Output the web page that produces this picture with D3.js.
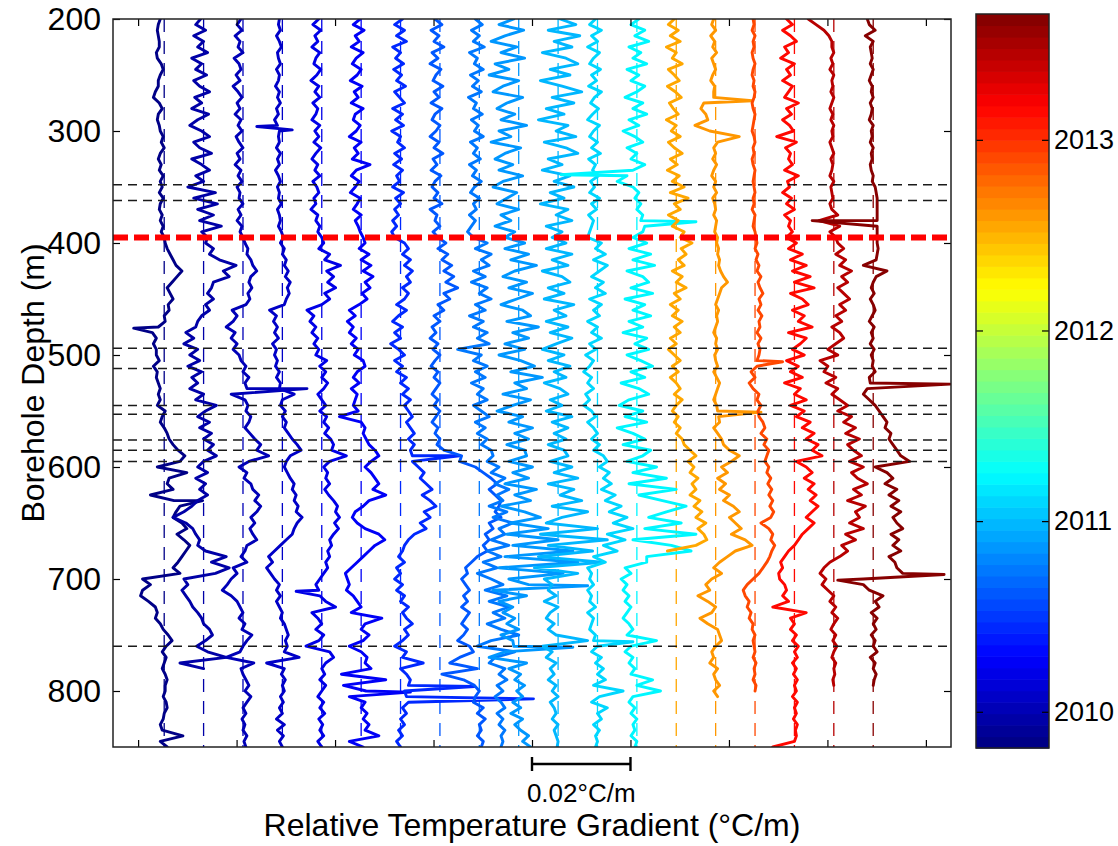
<!DOCTYPE html>
<html>
<head>
<meta charset="utf-8">
<script src="https://cdn.jsdelivr.net/npm/d3@7/dist/d3.min.js"></script>
<style>
  body { margin: 0; background: #fff; }
  svg { display: block; }
  text { font-family: "Liberation Sans", Arial, Helvetica, sans-serif; fill: #000; }
</style>
</head>
<body>
<svg id="chart" width="1118" height="846"></svg>
<script>
// ---- data -------------------------------------------------------------
// Relative temperature-gradient logs, one per survey, in mK/m relative to
// each log's own baseline, sampled every 5 m from 200 m downwards.
const depthStart = 200;
const depthStep = 5;

// survey dates (decimal years) -> colour on the jet scale
const surveyYears = [2009.86, 2009.94, 2010.02, 2010.10, 2010.18, 2010.28, 2010.46,
  2010.60, 2010.72, 2010.84, 2010.96, 2011.08, 2011.22, 2012.52, 2012.58,
  2012.92, 2013.14, 2013.42, 2013.63];

// horizontal offset of each log (°C/m)
const baselineOffsets = [0.0053, 0.0133, 0.0213, 0.0293, 0.0373, 0.0453, 0.0533,
  0.0613, 0.0693, 0.0773, 0.0853, 0.0933, 0.1013, 0.1093, 0.1173, 0.1253,
  0.1333, 0.1413, 0.1493];

const survey01 = [
  -0.8,-1.2,-1.4,-1.2,-1,-1,-1.6,-1.4,-0.6,-0.2,-0.8,-1.2,-1.2,-1.8,-2.2,-1,-0.4,-1.2,-1.4,-1,
  -0.8,-0.2,-0.6,0,-0.8,-1.2,-0.6,-1,-0.2,-0.8,-0.4,-1,-0.2,-0.8,-1,-0.4,-0.8,-0.2,-0.6,0,
  0.2,0.6,1.2,1.8,2.4,3.6,2.6,1.6,0.6,1.2,1.8,0.8,1,0,0.2,-1.2,-2.4,-1.6,-2.2,-1.6,
  -1.6,-1,-2.2,-1.4,-1.6,-1.2,-0.8,-1.2,-0.8,-1.4,0.2,-0.4,-0.8,0,0.6,1,1.8,2.8,4.2,3.2,
  -1.4,4.6,1,0.6,1.8,-2.8,2,3.2,2.4,1.8,3.6,4.6,2.6,4,5.2,4.4,3.6,2.8,1.8,3.2,
  -4.4,-2.8,-4.4,-4.8,-3.2,-1.8,-1.4,-1.8,-0.8,-0.2,0.8,1.6,0.4,-0.4,0.4,0,-0.4,0.2,0.6,0.2,
  0.2,-0.2,0.4,0.6,0,-0.2,-0.8,-0.4,3.8,-0.8,0.6];
const survey02 = [
  -0.6,-1.6,0.4,-2,0,-1.2,0.8,-2.4,-0.4,-1.6,0.6,-2,-0.8,1.2,-1.8,-0.4,-2.4,1,-1.2,-2.8,
  -0.4,1.2,-2,-0.8,1.6,-2.4,-0.4,1.2,-1.6,0,-3.2,2.4,-2,2.8,-1.2,2,-0.8,3.6,-0.4,0.8,
  0.4,2,1.2,3.2,6.6,4,5.2,2,1.6,0.8,2,0.4,1.2,-0.4,-1.2,-1.6,-3.6,-2,-4,-1.2,
  -2.8,-0.8,-3.2,-0.4,-2.4,-1.2,-2.8,0,-1.6,2.6,0.4,-1.2,1.2,-0.8,1.6,0,2,0.8,2.6,0,
  -1.2,0.8,-1.6,0.4,-0.8,0.8,-1.2,-2.4,-4,-6.2,-3.6,-2.2,-1.6,-0.8,-1.2,0.4,4.6,1.6,5.2,2.4,
  -4,-3.2,-4.4,-3.6,-2.8,-2.2,-1.2,-0.4,0,1.2,1.8,0.4,-1.4,0.8,4.6,-4.8,0];
const survey03 = [
  -0.4,-1.2,-0.2,-1.6,-0.6,-1,0,-1.8,-0.8,-0.4,-1.4,-0.6,-2,-1,-0.2,-1.2,-0.6,-1.6,-0.4,-1,
  -0.2,-1.4,-0.8,0,-1.2,-0.6,-1.6,-0.4,-1,-0.2,-1.2,-0.6,-0.8,0,-1,-0.4,-1.2,-0.2,-0.6,0,
  0.4,1,0.8,1.6,2,2.8,1.6,1.2,1.8,1,1.4,0.6,-2.2,-1.2,-2,-3.4,-1.6,-2.4,-1.2,-2,
  -0.8,-0.4,0.6,0,1.2,0.4,0.8,-2.4,0.4,1,0.6,1.6,1.2,0.4,1.4,2.4,3.6,2.8,5.2,1.2,
  -0.8,0.8,0.2,1.6,2,3.2,2.4,3.6,2.8,1.6,2.4,1.4,2,2.8,0.8,0.4,-0.4,0.8,-2,-1.2,
  -2.4,-3.2,-4.2,-2.4,-1.2,-0.6,0,-0.8,0.4,-0.2,1.8,0.8,0,-0.6,-3.4,2.2,-0.4,0,0.6,1.2,
  0.4,1.6,0.8,0,0.6,-0.2,0.4,0,0.8,0.2,0.6];
const survey04 = [
  -0.6,-0.8,-0.4,-1.2,-0.6,-0.2,-1,-0.8,-0.4,-1.2,-0.6,-0.8,-1.4,-0.6,-1,-0.4,-1.2,-0.8,-1.6,-1,
  -0.6,-0.8,-0.6,-1.2,-0.4,-1,-0.6,-1.4,-0.8,-0.4,-1,-0.6,-0.8,-0.2,-1,-0.6,-0.4,-0.8,-0.2,0.2,
  -0.4,0.4,0,0.8,0.4,1.2,0.6,1.6,1,1.4,0.8,0.4,-2.6,-1.2,-1.8,-1,-1.6,-0.8,-2,-1.2,
  -1.6,-1,-1.4,-0.6,-1.2,-0.4,-0.6,2.4,0,-0.4,0.6,0,0.8,0.4,1.2,2,3,3.8,1.6,0.8,
  0.4,1,1.6,2.4,2,2.8,2.4,3.2,2.8,4,3,2.4,2,0.8,-0.4,-1.6,-2.8,-2,-3.2,-2.4,
  -1.6,-0.6,-1.2,-0.4,-1.2,-0.6,0,-0.4,0.4,0.8,1.2,0.6,1,0.4,3.4,-3.2,0.4,-0.2,0.6,0,
  0.4,-0.4,0.2,-0.6,0,-1.2,0.4,-1,0.2,-0.6,0];
const survey05 = [
  -0.6,-1.8,-0.2,-1.4,-0.8,-2,-0.4,-1.2,-1.6,-0.2,-1,-2.2,-0.6,-1.4,-0.4,-1.8,-0.8,-1.2,-2,-0.4,
  -1.4,-0.6,-1.6,-0.2,-1.2,-2,-0.8,-1.4,-0.4,-1.8,-1,-0.6,-1.6,-1.2,-2.2,-0.8,-1.2,-0.4,-0.8,0,
  0.4,-0.6,1.6,0.6,3.8,1,2.4,1.2,2.8,0.6,1.6,0,-3,-1.6,-2.4,-1.2,-2,-0.8,-1.6,-0.6,
  -1.2,1,-0.4,0.8,0,1.2,0.4,-0.8,0,0.8,-0.4,1,0.4,1.4,0.6,1.8,2.4,2,5,1.6,
  0.4,1.2,0.8,1.6,0.6,1.4,2.4,3.2,2.8,3.6,2.6,3.4,2.4,1.6,2,1.2,1.6,0.8,1.2,0.4,
  -0.4,-1.2,-0.6,-0.4,0.8,2.8,-2,-0.8,0,-1.2,0.4,-0.6,-3.2,1.6,2.4,0.8,0,0.6,-0.4,0.8,
  0,-0.8,0.4,-0.4,0.6,-0.6,0.2,-0.4,0.4,-0.8,0];
const survey06 = [
  -0.2,-1.6,0.6,-1.2,-0.4,-2,0.4,-1,-1.8,0,-0.8,-2.2,0.2,-1.4,-0.6,-2,0.4,-1.2,-1.6,-0.2,
  -1,-2.4,0,-1.4,-0.6,-1.8,1.8,-1,-2,-0.4,-1.2,-2.2,-0.2,-0.8,-1.6,0,-1.2,-0.6,-0.2,0.4,
  0.8,-0.4,1.6,0,2,0.4,2.4,0.8,1.8,0.2,1.2,-0.4,-2.4,-1.2,-2.8,-1.6,-2.4,-1,-2,-0.6,
  -1.4,0.4,0.8,-0.8,-1.6,-0.4,-2,-0.8,-1.2,-1.6,-0.6,-4.4,0,0.8,0.4,1,1.6,2.8,3.6,2,
  0.8,2,2.8,3.6,2.4,5,1.6,0.4,-1.2,-1.8,-0.8,0.8,3.6,4.8,2.8,1.6,0.4,-0.8,-2,-3.2,
  -2.8,-2.4,-3,-1.6,-0.8,0,-2,4.2,0.8,0,1.6,0.4,-2.4,0,1.2,0.8,2,-4,5,-3.6,
  1,-2.4,0.8,0,1.2,0.4,1.6,0.8,3.6,-2.4,0.4];
const survey07 = [
  0.4,-1.2,0.8,-0.8,1.2,-1.6,0,-1,0.6,-1.4,0.2,-0.8,1,-1.2,-0.2,0.8,-1.6,0.4,-1,0.6,
  -1.8,0,-0.6,0.8,-1.2,0.2,-1.4,0.4,-0.8,-0.2,-1.6,0.6,-1,0,-1.2,-0.4,-1.6,-0.8,-1.8,-1.2,
  0.8,1.6,0.4,2,0.8,2.4,1.2,2,0.4,1.6,0.8,-0.8,1.2,-0.4,-1.6,0.4,-1.2,0,-2,-0.4,
  0.8,-1.2,0.4,-0.8,1.2,0,1.6,0.4,2,0.8,1.6,2.4,1.2,2,2.8,1.6,2.8,2,2.4,2.4,
  3.6,4.8,4,5.2,6.4,4.4,6,7.2,4.8,6,4,5.2,2.8,1.6,0.8,0.4,-0.4,0.8,-0.8,0,
  -1.2,0.4,-0.8,0.8,0,1.6,0.4,1.2,2.4,0.8,1.6,0.4,-1.2,1.2,0.4,4.6,0,1.2,2,1.6,
  0.8,1.2,1.6,0.4,1.2,0,0.8,-0.4,0.4,-0.8,0];
const survey08 = [
  -1,0.4,-1.8,-0.2,-1.2,0.8,-1.6,-0.4,-2,0.2,-0.8,-1.4,0.6,-1.2,-0.2,-1.8,0.4,-1,-1.6,0,
  -0.8,-2,-0.2,-1.2,0.6,-1.4,-0.6,-1.8,0.2,-1,-1.6,-0.4,-1.2,0.4,-2,-0.6,-1,0,-1.4,-0.4,
  1.2,-0.4,1.6,0.4,2.4,0.8,2.8,1.2,3.6,0.8,2,-0.4,0.8,-1.2,0,-1.6,-0.8,-2,-0.4,-1.4,
  0,-1,-1.8,-0.4,-1.2,0,-0.8,-1.6,-0.4,-1.2,0,-0.8,-1.6,-0.4,-1,0,-0.6,0.8,4.4,4,
  7.2,8.8,10.4,11.6,10,11.2,12.4,12,11.2,12.4,10,10.8,9.2,10,8.8,9.6,7.6,6.4,5.2,5.6,
  4.4,5.2,6,4.8,5.6,4.4,6,5.2,4.4,5.6,4.8,3.6,6,6.8,4,2,7.6,0.4,4.8,7,
  8,7.2,6.8,8.8,7.6,9.2,8,8.4,7.6,8.8,8.4];
const survey09 = [
  -0.8,0.6,-1.6,0,-1.2,1,-2,-0.4,-1,0.8,-1.8,-0.2,-1.4,0.4,-2.2,-0.6,-1.2,0.6,-1.6,-0.2,
  -1,0.8,-1.8,-0.4,-1.2,0.2,-2,-0.6,-1.4,0.4,-1,-1.8,0,-1.2,-0.6,-2,-0.8,-1.6,-2.4,-1.2,
  1.6,-0.8,2.4,0.4,2,-1.2,1.2,-1.6,1.6,0,2.4,-0.8,1.2,-2,0.8,-1.2,1.6,-0.4,2,-4.4,
  0.4,-1.2,1.6,-0.8,1.2,-1.6,0.8,-0.4,1.6,-1.2,0.4,2,-0.8,1.2,-0.4,1.6,0.4,2.4,2.8,1.6,
  4,2.4,5.2,3.2,6,3.6,4.8,2,5.6,2.8,6.8,4,5.2,2.4,6,1.6,4.4,0.8,3.6,-0.4,
  2.4,4.8,1.2,5.6,2,6,2.8,5.2,1.6,4.4,8,2.4,-0.4,7.2,3.2,2,5.2,4,5.6,3.6,
  4.8,3.2,4.4,5.2,3.6,4.8,4,5.2,4.4,4.8,4.4];
const survey10 = [
  -1,-4,1,-2.8,-5.6,-0.4,-3.6,1.2,-4.8,-2,-6,0,-3.2,-5.2,0.8,-2.4,-4.4,-0.8,-3.6,1.6,
  -4,-1.6,-5.6,0.4,-2.8,-4.8,-1.2,-4,0.8,-3.2,-5.2,-0.4,-2.4,-4.4,0,-3.6,-1.6,-4.8,-0.8,-2.8,
  1.2,-2.8,2,-1.6,3.6,-0.8,-3.2,1.6,-2,2.8,-0.4,-3.6,0.8,2.4,-2.4,4,-1.2,2,-2.8,1.2,
  -4,0.4,3.2,-1.6,4.8,-0.8,1.6,-3.2,2.4,-1.2,-4.4,0.8,-2,2.8,-0.8,2,-2.4,1.2,1.6,-2,
  2.8,-1.2,2,-2.8,3.6,-0.8,2.4,-3.6,1.2,4.4,-1.6,6,-2.4,8,-1.2,11,-2.8,12,-4,9,
  -2,2,-5.2,1.6,-4,-1.2,-3.2,-0.8,-2.4,0,-3.6,-1.2,-1,-2.8,-6,1.6,-2,0.4,-0.8,1.2,
  -0.4,0.8,-1.2,0.4,-1.6,0.8,-0.8,0.4,2,0.8,2.4];
const survey11 = [
  0.4,3.6,-2,4.4,-0.8,2.8,-3.2,1.6,4,-1.6,2.4,-3.6,0.8,4.8,-1.2,3.2,-2.4,1.2,-4,2,
  -0.4,3.6,-2.8,1.6,4,-2,0.8,-3.2,2.4,-0.8,3.2,-1.6,1.2,-3.6,2,-0.4,2.8,-2.4,0.8,-1.2,
  1.6,-2.4,2.8,-1.2,2,-3.2,0.8,2.4,-2,1.2,-2.8,3.2,-0.8,1.6,-2.4,2,-1.6,2.8,-0.4,-3.2,
  1.2,-2,2.4,-0.8,1.6,-2.8,0.4,2,-1.6,0.8,-2.4,2.8,-1.2,2,-0.8,1.6,-2,1.2,2,-1.6,
  2.8,-0.8,4,-2,3.2,0.4,4.8,-1.2,6,0.8,-2.4,8,-3.6,10,-2,7,-4,9,-4.8,4,
  -2.8,-1.2,-2,-0.4,-2.8,0,-1.6,-2.4,-0.8,-2,-0.4,6,-3.2,-1.2,-2.4,-0.4,-1.6,-0.8,-2,-0.4,
  -1.2,0,-1.6,-0.8,-0.4,-1.2,0,-0.8,-0.4,0,-0.2];
const survey12 = [
  -0.4,-1.6,0.8,-1.2,0,-2,0.4,-0.8,-1.6,0.6,-1.2,-0.2,-1.8,0.8,-0.6,-1.4,0.2,-1,-2,0.4,
  -0.8,-1.6,0,-1.2,0.6,-1.8,-0.4,-1,0.2,-1.4,-0.6,-1.6,0.4,-1.2,-0.2,-1.8,-0.8,-1.2,-1.6,-2,
  0.8,-0.4,1.6,-0.8,2,0.4,-1.2,1.2,-0.4,1.6,-1.6,0.8,-0.8,0.4,-2,0,-1.2,0.8,-1.6,-0.4,
  -2.4,-0.8,-1.6,-2.8,-1.2,-2,-0.8,-2.4,-1.6,-2.8,-1.2,-0.4,-2,-0.8,0,-1.2,0.4,-0.8,1.2,2,
  0.4,2.4,1.2,2.8,0.8,3.6,1.6,4.8,2.4,6,3.2,7.2,2,5.6,1.2,4,-0.8,1.6,-2,-1.2,
  -1.6,-0.8,-2,-1.2,-1.6,-0.4,-2,-0.8,-1.2,-1.6,-0.4,-0.8,0,-1.2,0.8,-0.4,1.2,0,1.6,-0.8,
  5.2,0.4,-1.2,2,0,0.8,-0.8,0.4,-0.4,0,-0.4];
const survey13 = [
  0.4,-1.2,1.6,-0.4,2.4,-1.6,0.8,-0.8,2,-2,0.4,-1.2,1.6,0,-2.4,1.2,-0.8,2,-1.6,0.4,
  -2.8,-0.4,1.2,-2,0,-1.2,1.6,-0.8,-2,-4,-0.8,0.4,-0.4,0.8,0,1.2,0.8,1.6,1.2,-0.8,
  2,-1.6,2.8,-0.8,3.6,-2,1.2,2.4,-1.2,3.2,-2.4,1.6,-0.8,2.8,-1.6,1.2,-2.8,2,-0.4,2.4,
  -2,0.8,3.2,-1.2,1.6,-3.2,0.4,2.4,-1.6,-3.6,1.2,-2.4,2,-4,-0.8,1.6,-2.8,2.8,1.2,-2,
  4,-0.8,6,-1.6,8,0.4,5.2,10,6,2.4,9,1.6,12,-0.8,7,11,2,2,-2.4,-1.2,
  -3.2,-2,-2.8,-1.6,-2.4,-1.2,-2,-2.8,-1.6,-0.8,-2,4,-1.2,-2.4,-0.8,-1.6,-0.4,-1.2,3.2,0,
  4.8,-0.8,-1.6,-0.4,-1.2,0,-0.8,-0.4,-1.2,0,-0.4];
const survey14 = [
  -0.4,-1.6,0.4,-1.2,0.8,-2,0,-0.8,1.2,-1.6,-0.4,0.6,-1.8,-0.2,1,-1.4,-0.6,0.4,-2,0,
  -1,0.8,-1.6,-0.4,1.2,-1.2,0.2,-1.8,0.6,-0.8,1.6,-1.2,2.4,-0.4,0.8,-1.6,0.4,-0.8,1.6,0.8,
  3.2,1,2,0.4,1.6,-0.8,1.2,0,2,-0.4,0.8,-1.2,0.4,-0.8,1.2,-0.4,0.8,-1.2,0,-1.6,
  -0.4,0.8,-0.8,0.4,-1.2,0,0.8,-0.4,1.2,0,-0.8,0.4,-0.4,0.8,0,1.2,1.6,2.8,4,2.4,
  3.6,2.8,4.4,3.2,4,2.8,4.8,3.6,5.2,4,6,4.4,5.6,6.2,4,-1.8];
const survey15 = [
  -0.4,-0.8,0,-1,-0.2,-0.6,0.2,-0.8,-0.4,0,-0.6,-1,-0.2,-0.4,-0.4,-2.4,-3,-2,-1.6,-4.2,
  -1.2,4.8,0.4,-0.4,0,-0.6,0.2,-0.4,-0.8,0,-0.4,0.2,-0.6,-0.2,0,-0.4,0.2,0,-0.2,0.4,
  0.2,0.6,0.4,0.8,0.6,1,1.6,2.4,1.2,0.8,0.4,0,0.6,0.2,0.4,0,-0.4,0.2,0,0.4,
  -0.2,0,0.4,-0.4,0.2,0.8,0.4,0,-0.4,0.2,0.4,0.6,0.8,-0.4,0.4,1.2,1.6,2.8,4.8,3.2,
  1.2,2.4,0.4,2,0.8,2.8,1.6,3.6,4.8,2.8,4,5.2,3.2,6,7.4,4,2.4,0.8,-0.4,1.2,
  -0.8,-2,-1.2,-3.6,-1.6,0,-0.8,-3.2,-1.6,0.4,0.8,1.2,0,-0.8,-0.4,-1.2,0.4,-0.4,0,0.8,
  -0.4,0.4];
const survey16 = [
  -0.4,-0.2,-0.6,0,-0.4,-0.2,-0.6,-0.4,0,-0.4,-0.6,-0.2,-0.4,0,-0.2,-0.6,-0.4,0,-0.2,-0.4,
  -0.6,-0.2,0,-0.4,-0.2,-0.6,-0.4,0,-0.2,-0.4,-0.2,0,-0.4,-0.2,-0.6,0,-0.2,-0.4,0,0.2,
  0.4,0,0.6,0.2,0.8,0.4,1.2,0.6,1,1.6,0.8,1.2,0.6,1.4,0.8,1,0.4,1.2,0.6,1,
  0.8,0.4,0.4,-0.8,0,-1.2,-0.4,0.8,0.4,1.2,0.6,0.8,1.6,2,1.2,2.4,1.8,2.8,2.4,2,
  2.8,2.4,3.2,2.6,3.4,2.8,3.6,3,3.8,3.2,1.2,2.8,3.6,3.2,4,3.4,3,2.4,1.6,0.8,
  -0.4,-1.6,-2.4,-2,-1.2,-1.6,-0.8,-1.2,-0.4,-0.6,0,-0.4,-0.2,0,-0.4,0.2,-0.2,0,-0.4,0.2,
  0];
const survey17 = [
  -1.6,-0.4,-2.4,-0.8,0.4,-2,-1.2,-2.8,0,-1.6,-0.8,-2.4,-0.4,-1.2,-2,0.8,-1.6,-0.6,-2.4,-1,
  -0.2,-3.6,0.4,-1.8,-0.8,-1.2,-0.4,-2,0.8,-1.4,-1,-2.4,-0.6,-1.6,0,-2,-0.8,-1.2,-0.4,-1.6,
  0.4,-1.2,1.6,-0.8,2.4,-0.4,3.2,0,4,-0.8,1.6,2.8,-0.4,2,0.8,3.6,-1.2,2.4,1.2,-0.4,
  2,-1.6,0.8,-0.8,1.6,-2,1.2,0,2.4,-0.8,2,0.4,3.2,1.6,4,2.4,4.8,3.6,5.6,0.4,
  2.4,3.6,2,4,2.8,4.4,3.2,4.8,3.6,2.4,4,2.8,1.6,0.8,0,-1.2,-2,-2.8,-2.4,-3.2,
  -3,-2,-1.6,-2.4,-1.2,-4.4,2.4,-0.8,0,-0.8,0.4,-0.4,0.8,0,0.6,-0.4,0.4,-0.2,0.6,0,
  0.4,-0.4,0.6,0,0.4,-0.2,0.6,0.2,0.4,0,-4.4];
const survey18 = [
  -5.2,-3.6,-2,-1,-0.4,-0.4,0,-0.6,-0.2,-0.8,0,-0.4,-0.2,-0.6,0,-0.4,-0.8,-0.2,-0.6,0,
  -0.4,-0.2,-0.8,-0.4,0,-0.6,-0.2,-0.4,-0.8,0,-0.6,-0.4,-0.2,-0.8,-0.4,0.8,-3,1.2,-0.8,0.4,
  0.8,2,0.4,2.4,1.2,3.6,1.6,2.8,0.8,2,3.2,1.2,2.4,0.4,1.6,-0.4,1.2,2,0.4,-1.2,
  0.8,-2.8,-1.2,-2,0.4,-1.6,0.8,-0.4,1.2,2.8,0.8,3.6,2,4.4,2.4,5.2,2.8,4,5.6,3.2,
  6,3.6,4.8,6.8,4,5.6,2.8,6.4,4.4,5.2,3.2,6,2.4,4.4,1.6,2.8,1.2,-0.8,-2,-2.8,
  -1.6,-2.4,-1.2,0,-0.8,0.4,-0.4,0.8,0,-0.6,0.4,-0.2,0.6,0,-0.4,0.4,0,0.2,-0.2,0];
const survey19 = [
  -1.2,-0.8,0.4,-1.6,0,-0.6,-0.4,-0.2,-0.6,0,-0.4,-0.8,-0.2,-0.4,0,-0.6,-0.2,-0.4,-0.8,0,
  -0.4,-0.2,-0.6,0,-0.4,-0.2,-0.6,-0.4,0,-0.2,0.4,0.6,0.8,0.8,0.8,0.8,0.8,0.8,0.8,0.8,
  0.8,1,0.8,0.6,-2,2.8,0.6,0,-0.4,0.2,-0.6,0,0.4,-0.2,-0.8,0.2,-0.4,0,-0.6,0.2,
  -0.4,0,-0.2,0.4,-0.8,-0.6,-1.2,-2,-0.8,0.4,1.2,2,2.8,2.4,3.6,3.2,4,4.8,5.6,7.4,
  0.4,2.8,4,2.4,4.8,3.2,5.2,3.6,5.6,4,4.8,6,3.6,5.2,4,5.6,3.2,4.4,4.8,6,
  -2,-2,-0.8,2,0.4,1.2,-0.4,0.8,0,0.6,-0.4,0.4,0,0.8,-0.6,0.4,0,0.6,0.2,0];

// sharp single-reading excursions: [survey index, depth (m), mK/m]
const spikes = [
  [0, 476, -6.2], [0, 630, 7.8],
  [2, 530, 13],
  [3, 296, -5.2], [3, 299, 2],
  [4, 711, -5.2],
  [5, 801, 10],
  [6, 590, 12], [6, 796, 15], [6, 807, 27],
  [9, 706, 14], [9, 761, 11],
  [11, 756, 7.2],
  [12, 339, -15.4], [12, 381, 12],
  [14, 273, 7.4], [14, 551, 9.2],
  [15, 506, 5.6],
  [18, 380, -12.4], [18, 526, 15.6], [18, 696, 14.4], [18, 701, -7.2]
];

const surveys = [survey01, survey02, survey03, survey04, survey05, survey06, survey07,
  survey08, survey09, survey10, survey11, survey12, survey13, survey14, survey15,
  survey16, survey17, survey18, survey19];

// depths of interpreted horizons and of the highlighted level (m)
const horizonDepths = [348, 362, 494, 512, 545, 553, 576, 585, 595, 760];
const highlightDepth = 395;

const depthTicks = [200, 300, 400, 500, 600, 700, 800];
const gradientTicks = [0, 0.02, 0.04, 0.06, 0.08, 0.10, 0.12, 0.14, 0.16];
const yearTicks = [2010, 2011, 2012, 2013];
const yearRange = [2009.81, 2013.66];
const scaleBar = [0.08, 0.10];

// ---- helpers ----------------------------------------------------------
function jet(t) {
  const k = Math.min(63, Math.max(0, Math.floor(t * 64)));
  const q = (k + 0.5) / 64;
  const c = v => Math.max(0, Math.min(1, v));
  const r = c(1.5 - Math.abs(4 * q - 3));
  const g = c(1.5 - Math.abs(4 * q - 2));
  const b = c(1.5 - Math.abs(4 * q - 1));
  return d3.rgb(r * 255, g * 255, b * 255).formatHex();
}
const yearToT = yr => (yr - yearRange[0]) / (yearRange[1] - yearRange[0]);

// ---- layout -----------------------------------------------------------
const plot = { left: 113, right: 951, top: 19, bottom: 747 };
const svg = d3.select("#chart");

const x = d3.scaleLinear().domain([-0.0051, 0.1651]).range([plot.left, plot.right]);
const y = d3.scaleLinear().domain([200, 850]).range([plot.top, plot.bottom]);

svg.append("defs").append("clipPath").attr("id", "plotClip")
  .append("rect")
  .attr("x", plot.left).attr("y", plot.top)
  .attr("width", plot.right - plot.left).attr("height", plot.bottom - plot.top);

const body = svg.append("g").attr("clip-path", "url(#plotClip)");

// dashed zero line for every log
surveys.forEach((vals, i) => {
  const col = jet(yearToT(surveyYears[i]));
  body.append("line")
    .attr("x1", x(baselineOffsets[i])).attr("x2", x(baselineOffsets[i]))
    .attr("y1", y(200)).attr("y2", y(850))
    .attr("stroke", col).attr("stroke-width", 1.3)
    .attr("stroke-dasharray", "13,9");
});

// the logs
const line = d3.line()
  .x(p => x(p.base + p.v / 1000))
  .y(p => y(p.d));

surveys.forEach((vals, i) => {
  const base = baselineOffsets[i];
  const pts = vals.map((v, k) => ({ d: depthStart + k * depthStep, v, base }));
  spikes.filter(s => s[0] === i).forEach(s => pts.push({ d: s[1], v: s[2], base }));
  pts.sort((a, b) => a.d - b.d);
  body.append("path")
    .datum(pts)
    .attr("d", line)
    .attr("fill", "none")
    .attr("stroke", jet(yearToT(surveyYears[i])))
    .attr("stroke-width", 2.9)
    .attr("stroke-linejoin", "round")
    .attr("stroke-linecap", "round");
});

// horizon markers
horizonDepths.forEach(d => {
  body.append("line")
    .attr("x1", plot.left).attr("x2", plot.right)
    .attr("y1", y(d)).attr("y2", y(d))
    .attr("stroke", "#1a1a1a").attr("stroke-width", 1.5)
    .attr("stroke-dasharray", "9,6");
});
body.append("line")
  .attr("x1", plot.left).attr("x2", plot.right)
  .attr("y1", y(highlightDepth)).attr("y2", y(highlightDepth))
  .attr("stroke", "#ff0000").attr("stroke-width", 6)
  .attr("stroke-dasharray", "15,6");

// axes (ticks point inwards, as in the original plotting package)
function styleAxis(g, size) {
  g.select(".domain").remove();
  g.selectAll(".tick line").attr("stroke", "#000").attr("stroke-width", 1.2);
  g.selectAll("text").style("font-size", (size || 32) + "px").attr("fill", "#000");
}
svg.append("g").attr("transform", `translate(${plot.left},0)`)
  .call(d3.axisLeft(y).tickValues(depthTicks).tickSizeInner(-7).tickSizeOuter(0).tickPadding(12))
  .call(styleAxis);
svg.append("g").attr("transform", `translate(${plot.right},0)`)
  .call(d3.axisRight(y).tickValues(depthTicks).tickSizeInner(-7).tickSizeOuter(0).tickFormat(""))
  .call(styleAxis);
svg.append("g").attr("transform", `translate(0,${plot.bottom})`)
  .call(d3.axisBottom(x).tickValues(gradientTicks).tickSizeInner(-7).tickSizeOuter(0).tickFormat(""))
  .call(styleAxis);
svg.append("g").attr("transform", `translate(0,${plot.top})`)
  .call(d3.axisTop(x).tickValues(gradientTicks).tickSizeInner(-7).tickSizeOuter(0).tickFormat(""))
  .call(styleAxis);

svg.append("rect")
  .attr("x", plot.left).attr("y", plot.top)
  .attr("width", plot.right - plot.left).attr("height", plot.bottom - plot.top)
  .attr("fill", "none").attr("stroke", "#222").attr("stroke-width", 1.5);

// axis titles
svg.append("text")
  .attr("transform", `translate(44,${(plot.top + plot.bottom) / 2}) rotate(-90)`)
  .attr("text-anchor", "middle")
  .style("font-size", "32px")
  .text("Borehole Depth (m)");
svg.append("text")
  .attr("x", (plot.left + plot.right) / 2).attr("y", 836)
  .attr("text-anchor", "middle")
  .style("font-size", "32px")
  .text("Relative Temperature Gradient (°C/m)");

// scale bar under the plot
const sbY = 764;
const sb = svg.append("g").attr("stroke", "#000").attr("stroke-width", 2.4);
sb.append("line").attr("x1", x(scaleBar[0])).attr("x2", x(scaleBar[1])).attr("y1", sbY).attr("y2", sbY);
sb.append("line").attr("x1", x(scaleBar[0])).attr("x2", x(scaleBar[0])).attr("y1", sbY - 7).attr("y2", sbY + 7);
sb.append("line").attr("x1", x(scaleBar[1])).attr("x2", x(scaleBar[1])).attr("y1", sbY - 7).attr("y2", sbY + 7);
svg.append("text")
  .attr("x", (x(scaleBar[0]) + x(scaleBar[1])) / 2).attr("y", 802)
  .attr("text-anchor", "middle")
  .style("font-size", "26px")
  .text(`${(scaleBar[1] - scaleBar[0]).toFixed(2)}°C/m`);

// colour bar
const cb = { left: 976, right: 1049, top: 14, bottom: 748 };
const yc = d3.scaleLinear().domain(yearRange).range([cb.bottom, cb.top]);
const nBands = 64;
const bandYears = d3.range(nBands + 1).map(k => yearRange[0] + k * (yearRange[1] - yearRange[0]) / nBands);
const cbg = svg.append("g");
cbg.selectAll("rect.band")
  .data(d3.range(nBands))
  .join("rect")
  .attr("class", "band")
  .attr("x", cb.left).attr("width", cb.right - cb.left)
  .attr("y", k => yc(bandYears[k + 1]))
  .attr("height", k => yc(bandYears[k]) - yc(bandYears[k + 1]) + 0.6)
  .attr("fill", k => jet((k + 0.5) / nBands));
svg.append("g").attr("transform", `translate(${cb.right},0)`)
  .call(d3.axisRight(yc).tickValues(yearTicks).tickSizeInner(-7).tickSizeOuter(0).tickPadding(5).tickFormat(d3.format("d")))
  .call(g => styleAxis(g, 27));
svg.append("g").attr("transform", `translate(${cb.left},0)`)
  .call(d3.axisLeft(yc).tickValues(yearTicks).tickSizeInner(-7).tickSizeOuter(0).tickFormat(""))
  .call(styleAxis);
svg.append("rect")
  .attr("x", cb.left).attr("y", cb.top)
  .attr("width", cb.right - cb.left).attr("height", cb.bottom - cb.top)
  .attr("fill", "none").attr("stroke", "#222").attr("stroke-width", 1.5);
</script>
</body>
</html>
